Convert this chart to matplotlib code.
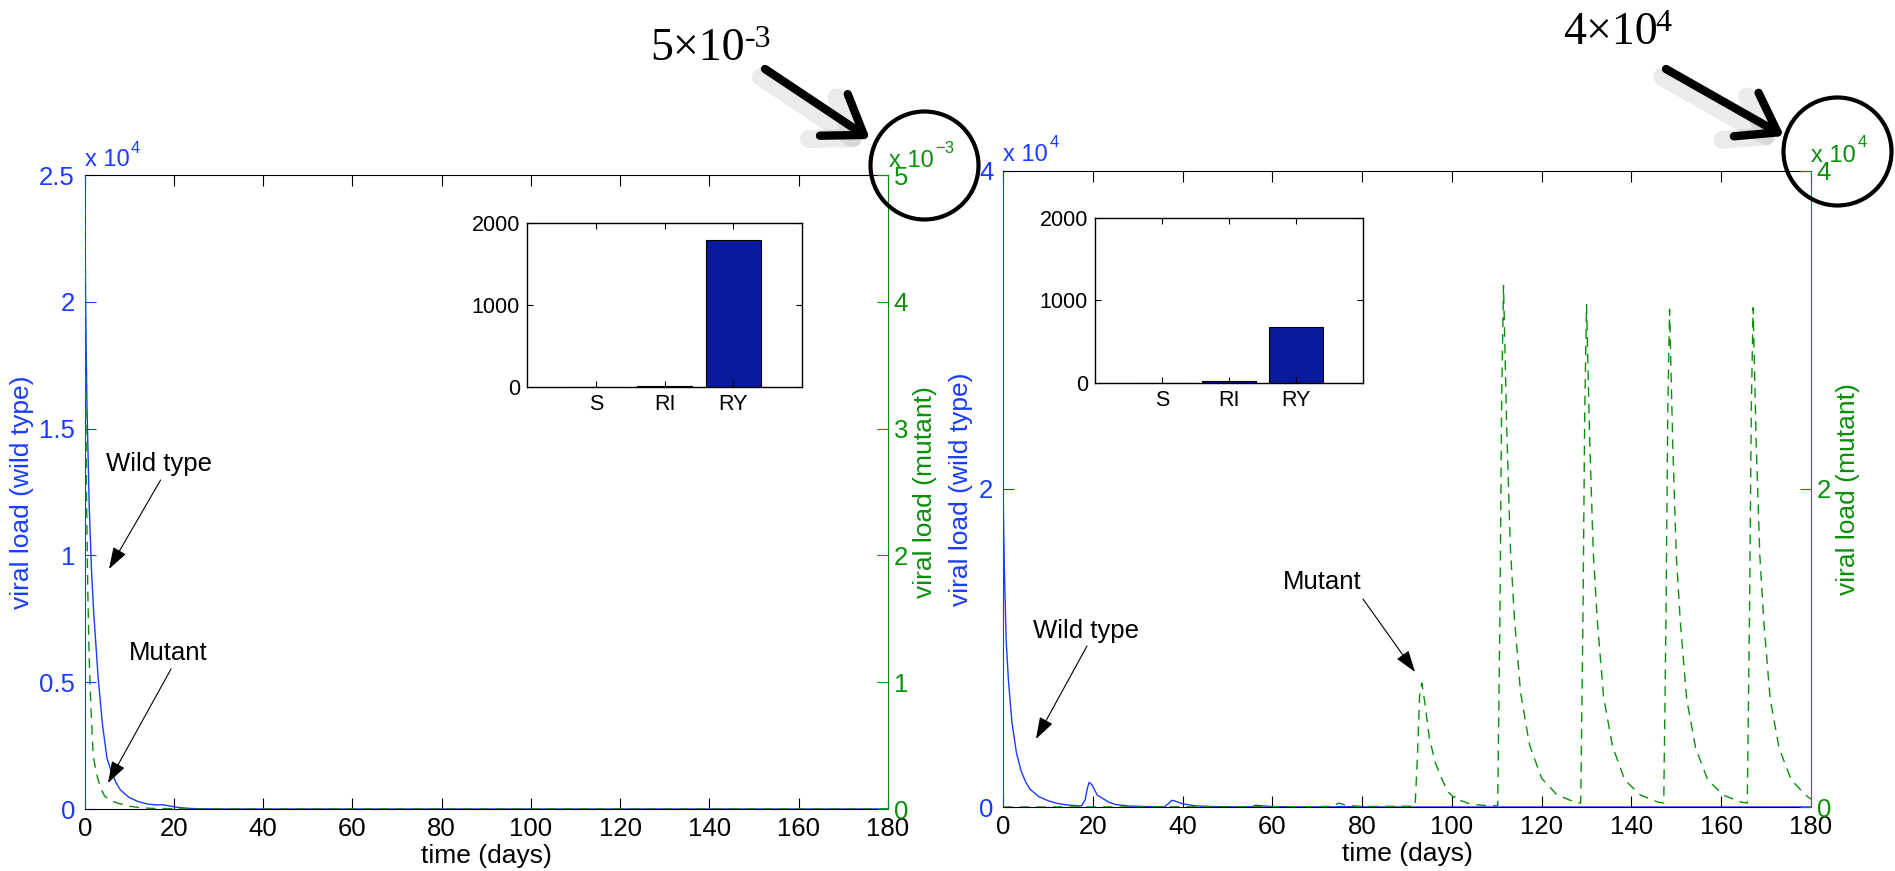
import matplotlib
matplotlib.use('Agg')
import matplotlib.pyplot as plt
from matplotlib.patches import FancyArrowPatch, Ellipse
from matplotlib.ticker import FuncFormatter
import numpy as np

# ---------------- data ----------------
time_ticks = [0, 20, 40, 60, 80, 100, 120, 140, 160, 180]
bar_categories = ['S', 'RI', 'RY']

# Left panel
t_wt_left = [0, 0.2, 0.5, 1, 1.5, 2, 3, 4, 5, 6, 7, 8, 10, 12, 14, 16, 17.5,
             19, 21, 23, 25, 28, 32, 180]
wt_left = [25000, 20000, 16000, 12000, 9500, 7800, 5200, 3300, 2000, 1450,
           1050, 750, 450, 290, 200, 160, 170, 120, 60, 30, 12, 5, 0, 0]
t_mu_left = [0, 0.1, 0.2, 0.4, 0.7, 1.0, 1.4, 1.9, 2.7, 3.5, 4.5, 6, 7.5, 10,
             12.5, 15, 20, 25, 180]
mu_left = [5.0e-3, 4.2e-3, 3.5e-3, 2.5e-3, 1.7e-3, 1.2e-3, 0.8e-3, 0.42e-3,
           0.27e-3, 0.17e-3, 0.10e-3, 0.065e-3, 0.045e-3, 0.022e-3, 0.010e-3,
           0.005e-3, 0.002e-3, 0.0, 0.0]
bars_left = [0, 12, 1790]

# Right panel
t_wt_right = [0, 0.3, 0.7, 1.2, 2, 3, 4, 5, 6, 8, 10, 12, 14, 16, 17.5, 18.3,
              18.8, 19.2, 19.8, 21, 23.6, 25, 28, 32, 36, 37, 37.6, 38.3, 40,
              43, 47, 52, 55.5, 56.2, 57.5, 60, 65, 74, 75, 76.5, 80, 90, 180]
wt_right = [20000, 15000, 10500, 8000, 5300, 3400, 2300, 1600, 1120, 650, 400,
            230, 140, 90, 70, 450, 1200, 1550, 1400, 750, 300, 160, 60, 25, 15,
            250, 420, 380, 200, 70, 25, 10, 10, 110, 80, 25, 8, 5, 30, 15, 4,
            0, 0]
t_mu_right = [0, 70, 73.5, 74.8, 76.5, 80, 91.8, 92.3, 92.8, 93.3, 94, 95,
              96.3, 97.7, 99, 100.4, 101, 102, 104, 107, 110.2, 110.7, 111.1,
              111.5, 112.2, 113, 113.9, 115.3, 117.3, 120, 123.4, 127.4, 128.7,
              129.2, 129.6, 130.0, 130.7, 131.5, 132.4, 133.8, 135.8, 138.5,
              142, 146, 147.2, 147.7, 148.1, 148.5, 149.2, 150, 150.9, 152.3,
              154.3, 157, 160.5, 164.5, 165.8, 166.3, 166.7, 167.1, 167.8,
              168.6, 169.5, 170.9, 172.9, 175.6, 179, 180]
mu_right = [0, 20, 50, 250, 100, 30, 50, 3000, 7000, 7800, 6500, 4300, 2800,
            1800, 1000, 600, 700, 400, 200, 100, 80, 12000, 26000, 32800, 24000,
            16500, 12000, 7200, 3900, 1800, 770, 300, 250, 12000, 25000, 31600,
            23000, 16000, 11700, 6900, 3800, 1700, 750, 300, 250, 12000, 25000,
            31300, 22800, 15800, 11600, 6800, 3700, 1700, 740, 300, 250, 12000,
            25000, 31400, 22800, 15800, 11600, 6800, 3700, 1700, 700, 500]
bars_right = [0, 30, 680]

# ---------------- style ----------------
W, H = 1895, 871
plt.rcParams['font.family'] = ['Liberation Sans', 'DejaVu Sans']
BLUE = '#1a3cff'
GREEN = '#0a8f0a'
BAR = '#0a1a9c'
TICK_FS = 18.5
LABEL_FS = 19

fig = plt.figure(figsize=(W / 100, H / 100), dpi=100)
fig.patch.set_facecolor('white')


def fx(x):
    return x / W


def fy(y):
    return 1 - y / H


def rect(x0, y0, x1, y1):
    return [x0 / W, 1 - y1 / H, (x1 - x0) / W, (y1 - y0) / H]


def fmt(scale):
    return FuncFormatter(lambda v, p: f'{v / scale:g}')


def panel(box, t_wt, wt, t_mu, mu, ylimL, yticksL, scaleL, ylimR, yticksR,
          scaleR, rspine):
    ax = fig.add_axes(rect(*box))
    axr = ax.twinx()
    ax.plot(t_wt, wt, color=BLUE, lw=1.0)
    axr.plot(t_mu, mu, color=GREEN, lw=1.0, dashes=(7, 5))
    ax.set_xlim(0, 180)
    ax.set_ylim(0, ylimL)
    axr.set_ylim(0, ylimR)
    ax.set_xticks(time_ticks)
    ax.set_yticks(yticksL)
    axr.set_yticks(yticksR)
    ax.yaxis.set_major_formatter(fmt(scaleL))
    axr.yaxis.set_major_formatter(fmt(scaleR))
    ax.tick_params(axis='x', direction='in', length=8, width=0.8, top=True,
                   labelsize=TICK_FS, pad=6, colors='black')
    ax.tick_params(axis='y', direction='in', length=8, width=0.8,
                   labelsize=TICK_FS, pad=7, colors=BLUE)
    axr.tick_params(axis='y', direction='in', length=8, width=0.8,
                    labelsize=TICK_FS, pad=4, colors=GREEN)
    for s in ['top', 'bottom']:
        axr.spines[s].set_visible(False)
        ax.spines[s].set_linewidth(0.8)
    axr.spines['left'].set_visible(False)
    ax.spines['right'].set_visible(False)
    ax.spines['left'].set_color(BLUE)
    ax.spines['left'].set_linewidth(0.8)
    axr.spines['right'].set_color(rspine)
    axr.spines['right'].set_linewidth(0.8)
    ax.set_xlabel('time (days)', fontsize=LABEL_FS, labelpad=2)
    ax.set_ylabel('viral load (wild type)', fontsize=LABEL_FS, color=BLUE,
                  labelpad=4)
    axr.set_ylabel('viral load (mutant)', fontsize=LABEL_FS, color=GREEN,
                   labelpad=4)
    return ax, axr


def inset(box, vals):
    ia = fig.add_axes(rect(*box))
    pos = np.arange(1, len(bar_categories) + 1)
    ia.bar(pos, vals, width=0.8, color=BAR, edgecolor='black', linewidth=0.8)
    ia.set_xlim(0, 4)
    ia.set_ylim(0, 2000)
    ia.set_xticks(pos, bar_categories)
    ia.set_yticks([0, 1000, 2000])
    ia.tick_params(direction='in', length=4, width=0.8, top=True, right=True,
                   labelsize=15.5, pad=5)
    for s in ia.spines.values():
        s.set_linewidth(1.0)
    return ia


panel((84.7, 175, 888, 809), t_wt_left, wt_left, t_mu_left, mu_left,
      25000, [0, 5000, 10000, 15000, 20000, 25000], 1e4,
      5e-3, [0, 1e-3, 2e-3, 3e-3, 4e-3, 5e-3], 1e-3, GREEN)
panel((1003, 171, 1811, 807), t_wt_right, wt_right, t_mu_right, mu_right,
      40000, [0, 20000, 40000], 1e4,
      40000, [0, 20000, 40000], 1e4, '#167a6c')

inset((527, 223, 802, 387), bars_left)
inset((1095, 218, 1363, 383), bars_right)

# exponent labels (MATLAB style)
for (x, y, base, sx, sy, sup, c) in [
        (85, 166, 'x 10', 131, 153, '4', BLUE),
        (889, 167, 'x 10', 935, 153, '\u22123', GREEN),
        (1003, 161, 'x 10', 1050, 147, '4', BLUE),
        (1811, 162, 'x 10', 1858, 147, '4', GREEN)]:
    fig.text(fx(x), fy(y), base, color=c, fontsize=17, va='baseline', ha='left')
    fig.text(fx(sx), fy(sy), sup, color=c, fontsize=12, va='baseline', ha='left')

# small annotations
for (txt, tx, ty, tail, tip) in [
        ('Wild type', 106, 464, (160.6, 480), (109, 569)),
        ('Mutant', 129, 653, (171, 669), (108, 783)),
        ('Wild type', 1033, 631, (1087, 646), (1036, 739)),
        ('Mutant', 1283, 582, (1363, 599), (1415, 672))]:
    fig.text(fx(tx), fy(ty), txt, fontsize=18.5, va='center', ha='left')
    fig.add_artist(FancyArrowPatch((fx(tail[0]), fy(tail[1])),
                                   (fx(tip[0]), fy(tip[1])),
                                   transform=fig.transFigure,
                                   arrowstyle='-|>,head_length=0.9,head_width=0.3',
                                   mutation_scale=15, lw=0.8, color='black',
                                   shrinkA=0, shrinkB=0))

# big hand-drawn callouts
for (cx, cy) in [(924.5, 165.5), (1837.5, 151.5)]:
    fig.add_artist(Ellipse((fx(cx), fy(cy)), width=2 * 54 / W,
                           height=2 * 54 / H, transform=fig.transFigure,
                           fill=False, lw=3, ec='black', zorder=5))

for (tail, tip) in [((765, 69), (870, 139)), ((1666, 69), (1784, 136))]:
    fig.add_artist(FancyArrowPatch((fx(tail[0] - 4), fy(tail[1] + 8)),
                                   (fx(tip[0] - 4), fy(tip[1] + 8)),
                                   transform=fig.transFigure,
                                   arrowstyle='->,head_length=1.3,head_width=0.9',
                                   mutation_scale=20, lw=13, color='black',
                                   alpha=0.08, shrinkA=0, shrinkB=0,
                                   capstyle='round', joinstyle='round',
                                   zorder=4))
    fig.add_artist(FancyArrowPatch((fx(tail[0]), fy(tail[1])),
                                   (fx(tip[0]), fy(tip[1])),
                                   transform=fig.transFigure,
                                   arrowstyle='->,head_length=1.3,head_width=0.9',
                                   mutation_scale=20, lw=6, color='black',
                                   shrinkA=0, shrinkB=0, capstyle='round',
                                   joinstyle='round', zorder=6))

fig.text(fx(650), fy(60), '5\u00d710', family='Liberation Serif', fontsize=33,
         va='baseline', ha='left')
fig.text(fx(745), fy(47), '-3', family='Liberation Serif', fontsize=23,
         va='baseline', ha='left')
fig.text(fx(1563), fy(44), '4\u00d710', family='Liberation Serif', fontsize=33,
         va='baseline', ha='left')
fig.text(fx(1655), fy(31), '4', family='Liberation Serif', fontsize=23,
         va='baseline', ha='left')

fig.savefig('out.png', dpi=100)
